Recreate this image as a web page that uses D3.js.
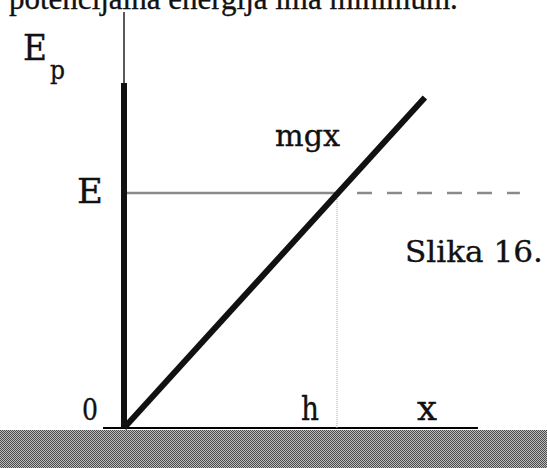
<!DOCTYPE html>
<html>
<head>
<meta charset="utf-8">
<script src="https://cdn.jsdelivr.net/npm/d3@7"></script>
<style>
  html, body { margin: 0; padding: 0; background: #fff; }
  svg { display: block; }
  svg text { font-family: "DejaVu Serif", "Liberation Serif", serif; fill: #111; }
</style>
</head>
<body>
<svg id="chart" width="547" height="468"></svg>
<script>
// Potential energy Ep = m·g·x of a body above the ground, with total energy E
const mg = 1;                      // slope of the potential line
const lineX = [0, 1.406];          // x range of the mgx line
const energy = 1;                  // total energy level E
const turnX = 1;                   // height h where mgx = E
const axisTop = 1.468;             // top of the thick Ep axis
const arrowTop = 1.77;             // top of the thin axis extension
const energyEnd = 1.85;            // where the dashed E level stops
const groundRange = [-0.098, 1.654];
const textLabels = {
  caption: "potencijalna energija ima minimum.",
  axis: "E", axisSub: "p", level: "E", zero: "0",
  height: "h", xLabel: "x", curve: "mgx", figure: "Slika 16."
};

const svg = d3.select("#chart");
const W = 547, H = 468;

const x = d3.scaleLinear().domain([0, 1]).range([124, 338]);
const y = d3.scaleLinear().domain([0, 1]).range([428, 193]);

// dithered ground fill
const defs = svg.append("defs");
const pat = defs.append("pattern").attr("id", "ground")
  .attr("width", 2).attr("height", 2).attr("patternUnits", "userSpaceOnUse");
pat.append("rect").attr("width", 2).attr("height", 2).attr("fill", "#bdbdbd");
pat.append("rect").attr("width", 1).attr("height", 1).attr("fill", "#4a4a4a");
pat.append("rect").attr("x", 1).attr("y", 1).attr("width", 1).attr("height", 1).attr("fill", "#4a4a4a");

svg.append("rect").attr("x", 0).attr("y", y(0) + 2).attr("width", W).attr("height", H - y(0) - 2)
  .attr("fill", "url(#ground)");

// ground line
svg.append("line")
  .attr("x1", x(groundRange[0])).attr("x2", x(groundRange[1]))
  .attr("y1", y(0)).attr("y2", y(0))
  .attr("stroke", "#000").attr("stroke-width", 2);

// E level: solid up to the turning point, dashed beyond
svg.append("line")
  .attr("x1", x(0)).attr("x2", x(turnX))
  .attr("y1", y(energy)).attr("y2", y(energy))
  .attr("stroke", "#8a8a8a").attr("stroke-width", 2.6);
svg.append("line")
  .attr("x1", x(turnX) + 19).attr("x2", x(energyEnd))
  .attr("y1", y(energy)).attr("y2", y(energy))
  .attr("stroke", "#8a8a8a").attr("stroke-width", 2.6)
  .attr("stroke-dasharray", "15 15");

// vertical dotted line at h
svg.append("line")
  .attr("x1", x(turnX) - 1).attr("x2", x(turnX) - 1)
  .attr("y1", y(energy)).attr("y2", y(0))
  .attr("stroke", "#aaa").attr("stroke-width", 1)
  .attr("stroke-dasharray", "1 1");

// Ep axis: thin extension and thick body
svg.append("line")
  .attr("x1", x(0)).attr("x2", x(0))
  .attr("y1", y(arrowTop)).attr("y2", y(axisTop))
  .attr("stroke", "#222").attr("stroke-width", 1.5);
svg.append("line")
  .attr("x1", x(0)).attr("x2", x(0))
  .attr("y1", y(axisTop)).attr("y2", y(0))
  .attr("stroke", "#111").attr("stroke-width", 6);

// potential line mgx
const line = d3.line().x(d => x(d)).y(d => y(mg * d));
svg.append("path").datum(lineX)
  .attr("d", line)
  .attr("fill", "none").attr("stroke", "#111").attr("stroke-width", 6)
  .attr("stroke-linecap", "butt");

// text in a broad serif; the caption line uses Liberation Serif
function label(txt, px, py, size, width, family) {
  const t = svg.append("text").attr("x", px).attr("y", py)
    .style("font-size", size + "px")
    .attr("stroke", "#111").attr("stroke-width", 0.35)
    .text(txt);
  if (family) t.style("font-family", family);
  if (width) t.attr("textLength", width).attr("lengthAdjust", "spacingAndGlyphs");
  return t;
}
label(textLabels.caption, 9, 9, 31, null, "'Liberation Serif', serif");
label(textLabels.axis, 23, 60, 36, 24);
label(textLabels.axisSub, 50, 79, 26, 15);
label(textLabels.level, 77, y(energy) + 10, 34, 26);
label(textLabels.zero, 82, 420, 30, 16);
label(textLabels.height, 301, 420, 33, 18);
label(textLabels.xLabel, 417, 420, 33, 20);
label(textLabels.curve, 275, 146, 30, 65);
label(textLabels.figure, 405, 262, 30, 138);
</script>
</body>
</html>
